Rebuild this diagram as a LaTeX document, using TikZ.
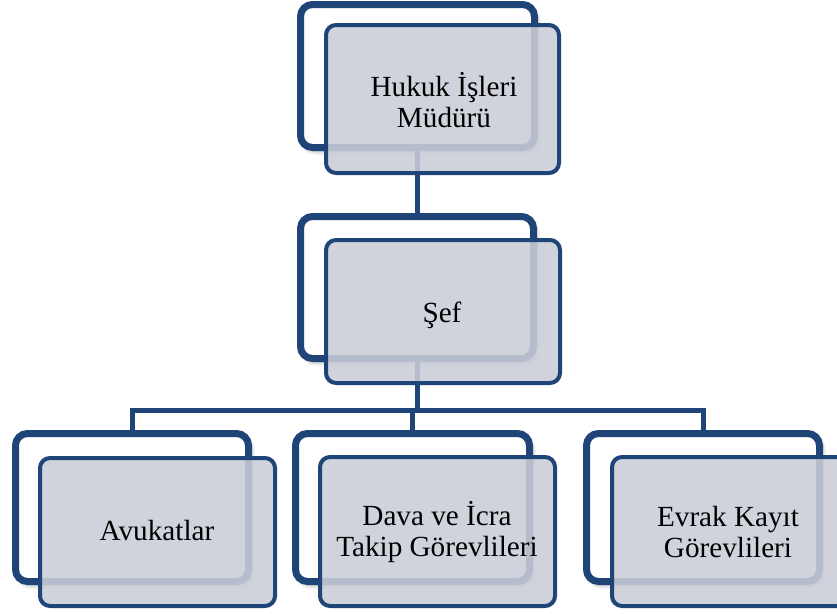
\documentclass[tikz,border=0pt]{standalone}
\usepackage{fontspec}
\setmainfont{Liberation Serif}
\usetikzlibrary{shadows.blur}
\definecolor{dblue}{RGB}{31,68,119}
\definecolor{ffill}{RGB}{202,205,215}
\tikzset{
  backbox/.style={draw=dblue, line width=7pt, fill=white, rounded corners=12pt,
    blur shadow={shadow xshift=3pt, shadow yshift=-4pt, shadow blur steps=6, shadow blur radius=4pt, shadow opacity=35}},
  frontbox/.style={draw=dblue, line width=4pt, fill=ffill, fill opacity=0.88, draw opacity=1, text opacity=1, rounded corners=10pt},
  conn/.style={draw=dblue, line width=5pt},
  lbl/.style={font=\fontsize{29.2}{31}\selectfont, align=center, text=black}
}
\begin{document}
\begin{tikzpicture}[x=1pt,y=-1pt]
\useasboundingbox (0,0) rectangle (837,613);
\clip (0,0) rectangle (837,613);
% back boxes
\path[backbox] (300.5,4.5) rectangle (534.5,147.5);
\path[backbox] (300.5,216.5) rectangle (533.5,358.5);
\path[backbox] (15.5,433.5) rectangle (248.5,581.5);
\path[backbox] (295.5,433.5) rectangle (529.5,581.5);
\path[backbox] (586.5,433.5) rectangle (819.5,581.5);
% connector anchor coordinates
\coordinate (tbs) at (417.5,147.5);
\coordinate (sbn) at (417.5,216.5);
\coordinate (sbs) at (417.5,358.5);
\coordinate (hub) at (417.5,410);
\coordinate (lbn) at (132,433.5);
\coordinate (mbn) at (412.5,433.5);
\coordinate (rbn) at (703,433.5);
\draw[conn] (tbs) -- (sbn);
\draw[conn] (sbs) -- (hub);
\draw[conn] (lbn) |- (hub) -| (rbn);
\draw[conn] (mbn) -- (mbn |- hub);
% front boxes
\path[frontbox] (326,25) rectangle (559,173);
\path[frontbox] (326,240) rectangle (560,383);
\path[frontbox] (40,458) rectangle (275,606);
\path[frontbox] (320,457) rectangle (555,606);
\path[frontbox] (612,457) rectangle (847,606);
% labels
\node[lbl] (t1) at (444,100) {Hukuk İşleri\\Müdürü};
\node[lbl] (t2) at (442,315) {Şef};
\node[lbl] (t3) at (157,531) {Avukatlar};
\node[lbl] (t4) at (437,532) {Dava ve İcra\\Takip Görevlileri};
\node[lbl] (t5) at (728,532) {Evrak Kayıt\\Görevlileri};
\end{tikzpicture}
\end{document}
